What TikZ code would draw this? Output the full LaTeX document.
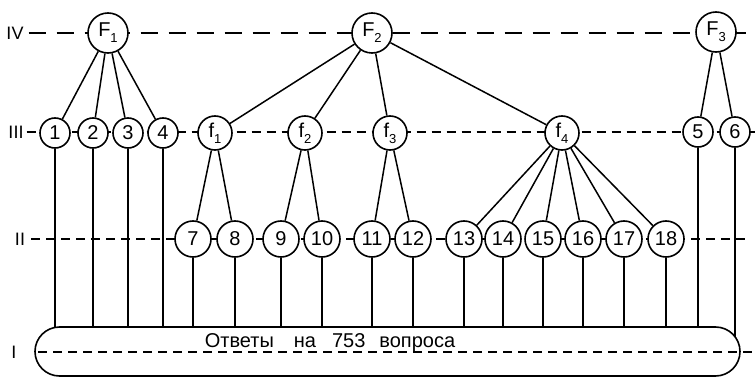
\documentclass[tikz,border=0pt]{standalone}
\usepackage{fontspec}
\setmainfont{Liberation Sans}
\newcommand\mysub[1]{\raisebox{-0.3em}{\fontsize{13}{13}\selectfont #1}}
\begin{document}
\begin{tikzpicture}[x=1pt,y=-1pt,
  lvl/.style={dash pattern=on 9pt off 6pt, line width=1.3pt},
  lvlbig/.style={dash pattern=on 17pt off 11pt, line width=1.3pt},
  nd/.style={circle,draw,line width=1.6pt,fill=white,inner sep=0pt,font=\fontsize{20}{20}\selectfont},
  big/.style={nd,minimum size=40pt},
  mid/.style={nd,minimum size=34pt},
  leaf/.style={nd,minimum size=30pt},
  leafb/.style={nd,minimum size=36pt},
  edge/.style={line width=1.5pt},
  lab/.style={font=\fontsize{18}{18}\selectfont, inner sep=0pt},
  bx/.style={draw,line width=1.6pt,fill=white,rounded corners=24.5pt,minimum width=705pt,minimum height=49pt,inner sep=0pt}
]
\useasboundingbox (0,0) rectangle (755,377);
% level labels
\node[lab] (LIV) at (15,33) {IV};
\node[lab] (LIII) at (16,132) {III};
\node[lab] (LII) at (20,239) {II};
\node[lab] (LI) at (14,352) {I};
\coordinate (IVe) at (755,33);
\coordinate (IIIe) at (755,132);
\coordinate (IIe) at (750,239);
\coordinate (Is) at (38,352);
\coordinate (Ie) at (755,352);
\draw[lvlbig] ([xshift=5pt]LIV.east) -- (IVe);
\draw[lvl] ([xshift=3pt]LIII.east) -- (IIIe);
\draw[lvl] ([xshift=6pt]LII.east) -- (IIe);
% top nodes
\node[big] (F1) at (108,33) {F\mysub{1}};
\node[big] (F2) at (372,33) {F\mysub{2}};
\node[big] (F3) at (716,32) {F\mysub{3}};
% level III
\node[leaf] (n1) at (55,133) {1};
\node[leaf] (n2) at (93,133) {2};
\node[leaf] (n3) at (128,133) {3};
\node[leaf] (n4) at (163,133) {4};
\node[mid] (f1) at (215,133) {f\mysub{1}};
\node[mid] (f2) at (305,133) {f\mysub{2}};
\node[mid] (f3) at (390,133) {f\mysub{3}};
\node[mid] (f4) at (562,133) {f\mysub{4}};
\node[leaf] (n5) at (698,132) {5};
\node[leaf] (n6) at (735,132) {6};
% level II
\foreach \n/\x in {7/193,8/235,9/281,10/322,11/372,12/413,13/464,14/503,15/543,16/583,17/624,18/666}
  \node[leafb] (n\n) at (\x,239) {\n};
% tree edges
\foreach \c in {n1,n2,n3,n4} \draw[edge] (F1) -- (\c);
\foreach \c in {f1,f2,f3,f4} \draw[edge] (F2) -- (\c);
\foreach \c in {n5,n6} \draw[edge] (F3) -- (\c);
\foreach \c in {n7,n8} \draw[edge] (f1) -- (\c);
\foreach \c in {n9,n10} \draw[edge] (f2) -- (\c);
\foreach \c in {n11,n12} \draw[edge] (f3) -- (\c);
\foreach \c in {n13,n14,n15,n16,n17,n18} \draw[edge] (f4) -- (\c);
% vertical lines to answers box
\coordinate (bm) at (387.5,351.5);
\foreach \c in {n1,n2,n3,n4,n5,n6,n7,n8,n9,n10,n11,n12,n13,n14,n15,n16,n17,n18}
  \draw[edge] (\c.south) -- (\c.south |- bm);
% answers box
\node[bx] (box) at (bm) {};
\draw[lvl] (Is) -- (Ie);
\node[inner sep=0pt,anchor=base,font=\fontsize{20}{20}\selectfont] (txt) at (330,347) {Ответы\hspace{1em}на\hspace{0.8em}753\hspace{0.7em}вопроса};
\end{tikzpicture}
\end{document}
